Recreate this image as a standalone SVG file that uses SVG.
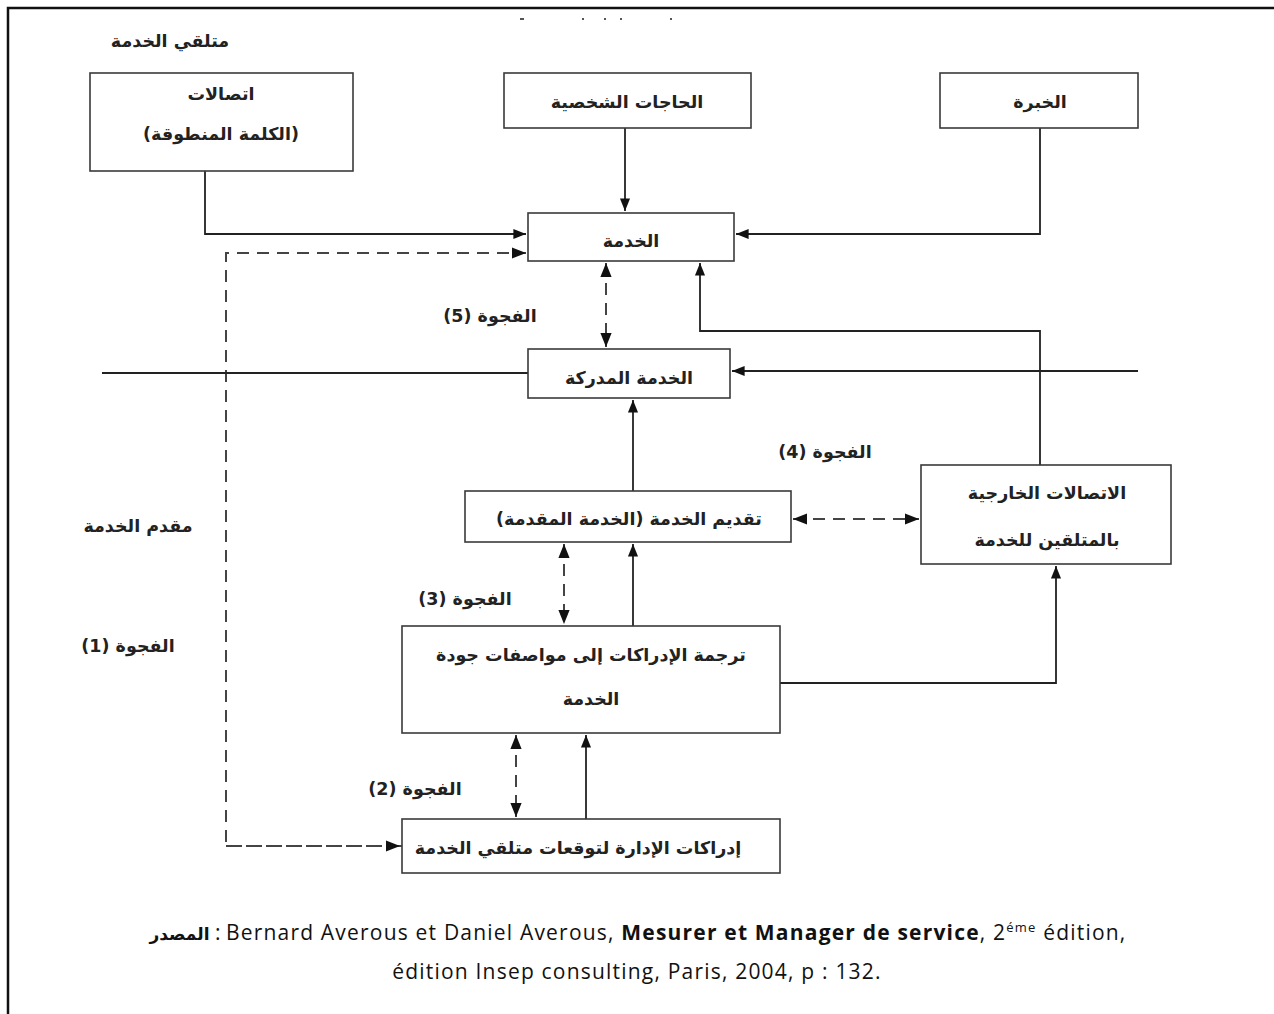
<svg xmlns="http://www.w3.org/2000/svg" width="1274" height="1014" viewBox="0 0 1274 1014">
<style>
.box{fill:#fff;stroke:#3a3a3a;stroke-width:1.6}
.ar{font-family:"DejaVu Sans",sans-serif;font-size:17.5px;font-weight:bold;fill:#222;text-anchor:middle;direction:rtl}
.ln{fill:none;stroke:#222;stroke-width:1.8}
.ds{fill:none;stroke:#444;stroke-width:2;stroke-dasharray:12 8}
.src{font-family:"Open Sans",sans-serif;font-size:21px;letter-spacing:1.2px;fill:#111;text-anchor:middle}
</style>
<defs>
<marker id="ab" viewBox="0 0 10 10" refX="10" refY="5" markerWidth="7" markerHeight="7" orient="auto-start-reverse" markerUnits="strokeWidth">
<path d="M0,1 L10,5 L0,9 z" fill="#111"/>
</marker>
</defs>
<rect width="1274" height="1014" fill="#fff"/>
<path d="M8,1014 V8 H1274" fill="none" stroke="#111" stroke-width="2.5"/>
<g fill="#555">
<rect x="520" y="18" width="4" height="2"/><rect x="582" y="18" width="2" height="2"/><rect x="604" y="18" width="2" height="2"/><rect x="620" y="18" width="2" height="2"/><rect x="670" y="18" width="2" height="2"/>
</g>

<g id="connectors">
<path class="ln" d="M205,171 V234 H526" marker-end="url(#ab)"/>
<path class="ln" d="M625,128 V211" marker-end="url(#ab)"/>
<path class="ln" d="M1040,128 V234 H736" marker-end="url(#ab)"/>
<path class="ds" d="M402,846 H226 V253 H526" marker-end="url(#ab)"/>
<path class="ds" d="M226,846 H400" marker-end="url(#ab)"/>
<path class="ds" d="M606,263 V347" marker-start="url(#ab)" marker-end="url(#ab)"/>
<path class="ln" d="M102,373 H528"/>
<path class="ln" d="M1138,371 H732" marker-end="url(#ab)"/>
<path class="ln" d="M1040,465 V331 H700 V263" marker-end="url(#ab)"/>
<path class="ln" d="M633,491 V400" marker-end="url(#ab)"/>
<path class="ds" d="M793,519 H919" marker-start="url(#ab)" marker-end="url(#ab)"/>
<path class="ds" d="M564,544 V624" marker-start="url(#ab)" marker-end="url(#ab)"/>
<path class="ln" d="M633,626 V544" marker-end="url(#ab)"/>
<path class="ln" d="M780,683 H1056 V566" marker-end="url(#ab)"/>
<path class="ds" d="M516,735 V817" marker-start="url(#ab)" marker-end="url(#ab)"/>
<path class="ln" d="M586,819 V735" marker-end="url(#ab)"/>
</g>

<g id="n-word">
<rect class="box" x="90" y="73" width="263" height="98"/>
<text class="ar" x="221" y="100">اتصالات</text>
<text class="ar" x="221" y="140">(الكلمة المنطوقة)</text>
</g>
<g id="n-needs">
<rect class="box" x="504" y="73" width="247" height="55"/>
<text class="ar" x="627" y="108">الحاجات الشخصية</text>
</g>
<g id="n-exp">
<rect class="box" x="940" y="73" width="198" height="55"/>
<text class="ar" x="1040" y="108">الخبرة</text>
</g>
<g id="n-service">
<rect class="box" x="528" y="213" width="206" height="48"/>
<text class="ar" x="631" y="247">الخدمة</text>
</g>
<g id="n-perceived">
<rect class="box" x="528" y="349" width="202" height="49"/>
<text class="ar" x="629" y="384">الخدمة المدركة</text>
</g>
<g id="n-delivery">
<rect class="box" x="465" y="491" width="326" height="51"/>
<text class="ar" x="629" y="525">تقديم الخدمة (الخدمة المقدمة)</text>
</g>
<g id="n-external">
<rect class="box" x="921" y="465" width="250" height="99"/>
<text class="ar" x="1047" y="499">الاتصالات الخارجية</text>
<text class="ar" x="1047" y="546">بالمتلقين للخدمة</text>
</g>
<g id="n-translation">
<rect class="box" x="402" y="626" width="378" height="107"/>
<text class="ar" x="591" y="661">ترجمة الإدراكات إلى مواصفات جودة</text>
<text class="ar" x="591" y="705">الخدمة</text>
</g>
<g id="n-management">
<rect class="box" x="402" y="819" width="378" height="54"/>
<text class="ar" x="578" y="854">إدراكات الإدارة لتوقعات متلقي الخدمة</text>
</g>

<g id="labels">
<text class="ar" x="170" y="47">متلقي الخدمة</text>
<text class="ar" x="138" y="532">مقدم الخدمة</text>
<text class="ar" x="128" y="652">الفجوة (1)</text>
<text class="ar" x="415" y="795">الفجوة (2)</text>
<text class="ar" x="465" y="605">الفجوة (3)</text>
<text class="ar" x="825" y="458">الفجوة (4)</text>
<text class="ar" x="490" y="322">الفجوة (5)</text>
</g>

<g id="source">
<text class="src" x="638" y="940"><tspan font-family="DejaVu Sans, sans-serif" font-weight="bold" font-size="17" letter-spacing="0">المصدر</tspan> : Bernard Averous et Daniel Averous, <tspan font-weight="bold">Mesurer et Manager de service</tspan>, 2<tspan font-size="13" dy="-8">éme</tspan><tspan dy="8"> édition,</tspan></text>
<text class="src" x="637" y="979">édition Insep consulting, Paris, 2004, p : 132.</text>
</g>
</svg>
